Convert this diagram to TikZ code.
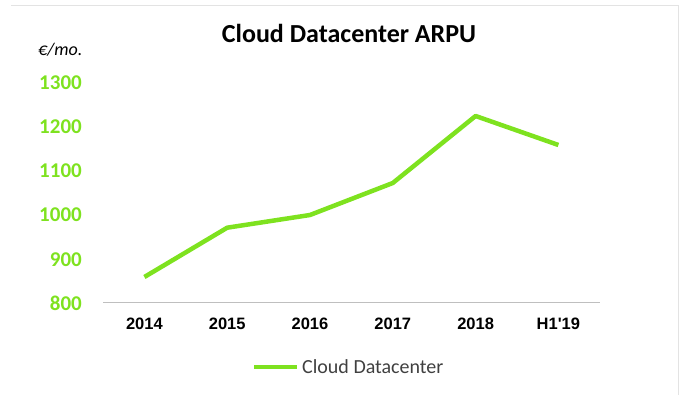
\documentclass[tikz,border=0pt]{standalone}
\usepackage{fontspec}
\setmainfont{Carlito}
\newfontfamily\arialf{Liberation Sans}
\definecolor{lgreen}{HTML}{7EE21F}
\definecolor{axgray}{HTML}{BFBFBF}
\definecolor{frgray}{HTML}{E3E3E3}
\definecolor{legtext}{HTML}{404040}
\begin{document}
\begin{tikzpicture}[x=1pt,y=-1pt,
  ylab/.style={anchor=east,inner sep=0pt,text=lgreen,font=\fontsize{21}{24}\selectfont\bfseries},
  xlab/.style={anchor=center,inner sep=0pt,font=\arialf\fontsize{16.5}{19}\selectfont\bfseries},
  series/.style={draw=lgreen,line width=4.5pt,line join=round},
]
\useasboundingbox (0,0) rectangle (680,395);
% frame (top and right only visible)
\draw[frgray,line width=1pt] (11,6) -- (678,6) -- (678,395);
% title
\node[inner sep=0pt,font=\fontsize{26}{30}\selectfont\bfseries] (title) at (349,33) {Cloud Datacenter ARPU};
\node[inner sep=0pt,anchor=west,font=\fontsize{18}{20}\selectfont\itshape] (unit) at (38,50) {€/mo.};
% y labels
\node[ylab] (y1300) at (82,82.5) {1300};
\node[ylab] (y1200) at (82,126.7) {1200};
\node[ylab] (y1100) at (82,170.9) {1100};
\node[ylab] (y1000) at (82,215.1) {1000};
\node[ylab] (y900) at (82,259.3) {900};
\node[ylab] (y800) at (82,303.5) {800};
% axis
\coordinate (axl) at (103,302.7);
\coordinate (axr) at (600,302.7);
\draw[axgray,line width=1.2pt] (axl) -- (axr);
% x labels
\node[xlab] (x1) at (144.4,324) {2014};
\node[xlab] (x2) at (227.2,324) {2015};
\node[xlab] (x3) at (310.0,324) {2016};
\node[xlab] (x4) at (392.8,324) {2017};
\node[xlab] (x5) at (475.6,324) {2018};
\node[xlab] (x6) at (558.4,324) {H1{\char"27}19};
% data
\coordinate (p1) at (144.4,277.0);
\coordinate (p2) at (227.2,227.7);
\coordinate (p3) at (310.0,215.0);
\coordinate (p4) at (392.8,183.0);
\coordinate (p5) at (475.6,116.0);
\coordinate (p6) at (558.4,145.0);
\draw[series] (p1) -- (p2) -- (p3) -- (p4) -- (p5) -- (p6);
% legend
\coordinate (la) at (254,367);
\coordinate (lb) at (297,367);
\draw[series] (la) -- (lb);
\node[anchor=west,inner sep=0pt,text=legtext,font=\fontsize{20}{23}\selectfont] (leg) at (302,367) {Cloud Datacenter};
\end{tikzpicture}
\end{document}
